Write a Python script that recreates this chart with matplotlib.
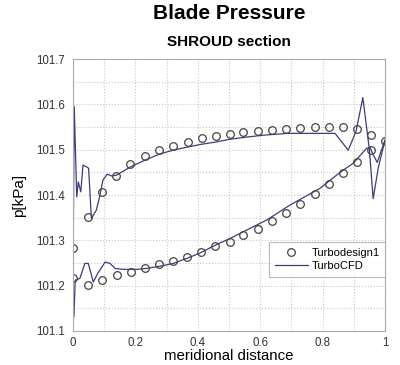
import numpy as np
import matplotlib
matplotlib.use("Agg")
import matplotlib.pyplot as plt
from matplotlib.ticker import MultipleLocator

plt.rcParams['font.family'] = ['Liberation Sans', 'DejaVu Sans']

# Turbodesign1 markers (upper / lower surface)
td_upper_x = [0.0, 0.049, 0.092, 0.138, 0.184, 0.231, 0.276, 0.321, 0.368, 0.412, 0.458,
              0.503, 0.546, 0.592, 0.638, 0.683, 0.729, 0.775, 0.819, 0.865, 0.910, 0.956, 1.0]
td_upper_p = [101.284, 101.352, 101.407, 101.442, 101.468, 101.486, 101.499, 101.508, 101.517,
              101.525, 101.530, 101.534, 101.540, 101.542, 101.543, 101.545, 101.548, 101.550,
              101.551, 101.550, 101.545, 101.533, 101.519]
td_lower_x = [0.0, 0.049, 0.093, 0.140, 0.185, 0.230, 0.275, 0.320, 0.366, 0.411, 0.456,
              0.503, 0.546, 0.592, 0.638, 0.683, 0.729, 0.775, 0.819, 0.865, 0.910, 0.954]
td_lower_p = [101.218, 101.202, 101.212, 101.223, 101.230, 101.238, 101.248, 101.255, 101.263,
              101.275, 101.287, 101.297, 101.311, 101.325, 101.342, 101.361, 101.380, 101.402,
              101.424, 101.448, 101.473, 101.499]

# TurboCFD lines
cfd_upper_x = [0.0, 0.004, 0.012, 0.017, 0.025, 0.032, 0.044, 0.050, 0.059, 0.075, 0.085,
               0.096, 0.110, 0.124, 0.140, 0.184, 0.231, 0.276, 0.321, 0.368, 0.412, 0.458,
               0.503, 0.546, 0.610, 0.685, 0.760, 0.840, 0.882, 0.907, 0.929, 0.950, 0.962,
               0.979, 1.0]
cfd_upper_p = [101.215, 101.595, 101.396, 101.429, 101.407, 101.466, 101.462, 101.459, 101.348,
               101.367, 101.396, 101.433, 101.446, 101.442, 101.444, 101.462, 101.477, 101.490,
               101.499, 101.506, 101.512, 101.517, 101.523, 101.527, 101.532, 101.536, 101.536,
               101.536, 101.499, 101.540, 101.615, 101.500, 101.392, 101.462, 101.521]
cfd_lower_x = [0.0, 0.003, 0.007, 0.022, 0.038, 0.049, 0.065, 0.080, 0.103, 0.119, 0.135,
               0.161, 0.204, 0.236, 0.279, 0.321, 0.364, 0.407, 0.455, 0.503, 0.546, 0.621,
               0.696, 0.792, 0.856, 0.898, 0.941, 0.952, 0.960, 0.975, 1.0]
cfd_lower_p = [101.215, 101.131, 101.212, 101.216, 101.249, 101.249, 101.208, 101.228, 101.252,
               101.249, 101.238, 101.236, 101.236, 101.238, 101.243, 101.249, 101.260, 101.272,
               101.289, 101.304, 101.319, 101.345, 101.378, 101.415, 101.450, 101.470, 101.503,
               101.505, 101.492, 101.472, 101.521]

line_color = '#3c3c7c'
marker_color = '#444444'

fig = plt.figure(figsize=(4.0, 3.65), dpi=100)
ax = fig.add_axes([0.1825, 0.0932, 0.78, 0.745])

ax.plot(cfd_upper_x, cfd_upper_p, color=line_color, lw=0.9)
ax.plot(cfd_lower_x, cfd_lower_p, color=line_color, lw=0.9, label='TurboCFD')
ax.plot(td_upper_x, td_upper_p, 'o', mfc='none', mec=marker_color, ms=5.5, mew=0.9)
ax.plot(td_lower_x, td_lower_p, 'o', mfc='none', mec=marker_color, ms=5.5, mew=0.9,
        label='Turbodesign1')

ax.set_xlim(0, 1)
ax.set_ylim(101.1, 101.7)
ax.xaxis.set_minor_locator(MultipleLocator(0.1))
ax.yaxis.set_minor_locator(MultipleLocator(0.05))
ax.set_xticks([0, 0.2, 0.4, 0.6, 0.8, 1])
ax.set_xticklabels(['0', '0.2', '0.4', '0.6', '0.8', '1'])
ax.set_yticks([101.1, 101.2, 101.3, 101.4, 101.5, 101.6, 101.7])
ax.set_yticklabels(['101.1', '101.2', '101.3', '101.4', '101.5', '101.6', '101.7'])
ax.grid(which='both', color='#c8c8c8', ls=':', lw=0.8)
ax.tick_params(which='both', length=0, labelsize=8.3, colors='#333333', pad=6)
ax.tick_params(axis='x', pad=4)
for s in ax.spines.values():
    s.set_color('#aaaaaa')
    s.set_linewidth(0.8)

ax.set_xlabel('meridional distance', fontsize=10.8, labelpad=0)
ax.set_ylabel('p[kPa]', fontsize=11, labelpad=7)

handles, labels = ax.get_legend_handles_labels()
leg = ax.legend(handles[::-1], labels[::-1], loc='lower right', bbox_to_anchor=(1.0, 0.199),
                borderaxespad=0, fontsize=8, frameon=True, fancybox=False,
                edgecolor='#aaaaaa', handlelength=3.0, borderpad=0.5, labelspacing=0.3,
                handletextpad=0.3)
leg.get_frame().set_linewidth(0.8)

fig.text(0.5725, 0.962, 'Blade Pressure', ha='center', va='center', fontsize=15, fontweight='bold')
fig.text(0.5725, 0.885, 'SHROUD section', ha='center', va='center', fontsize=11, fontweight='bold')

fig.savefig('out.png', dpi=100)
